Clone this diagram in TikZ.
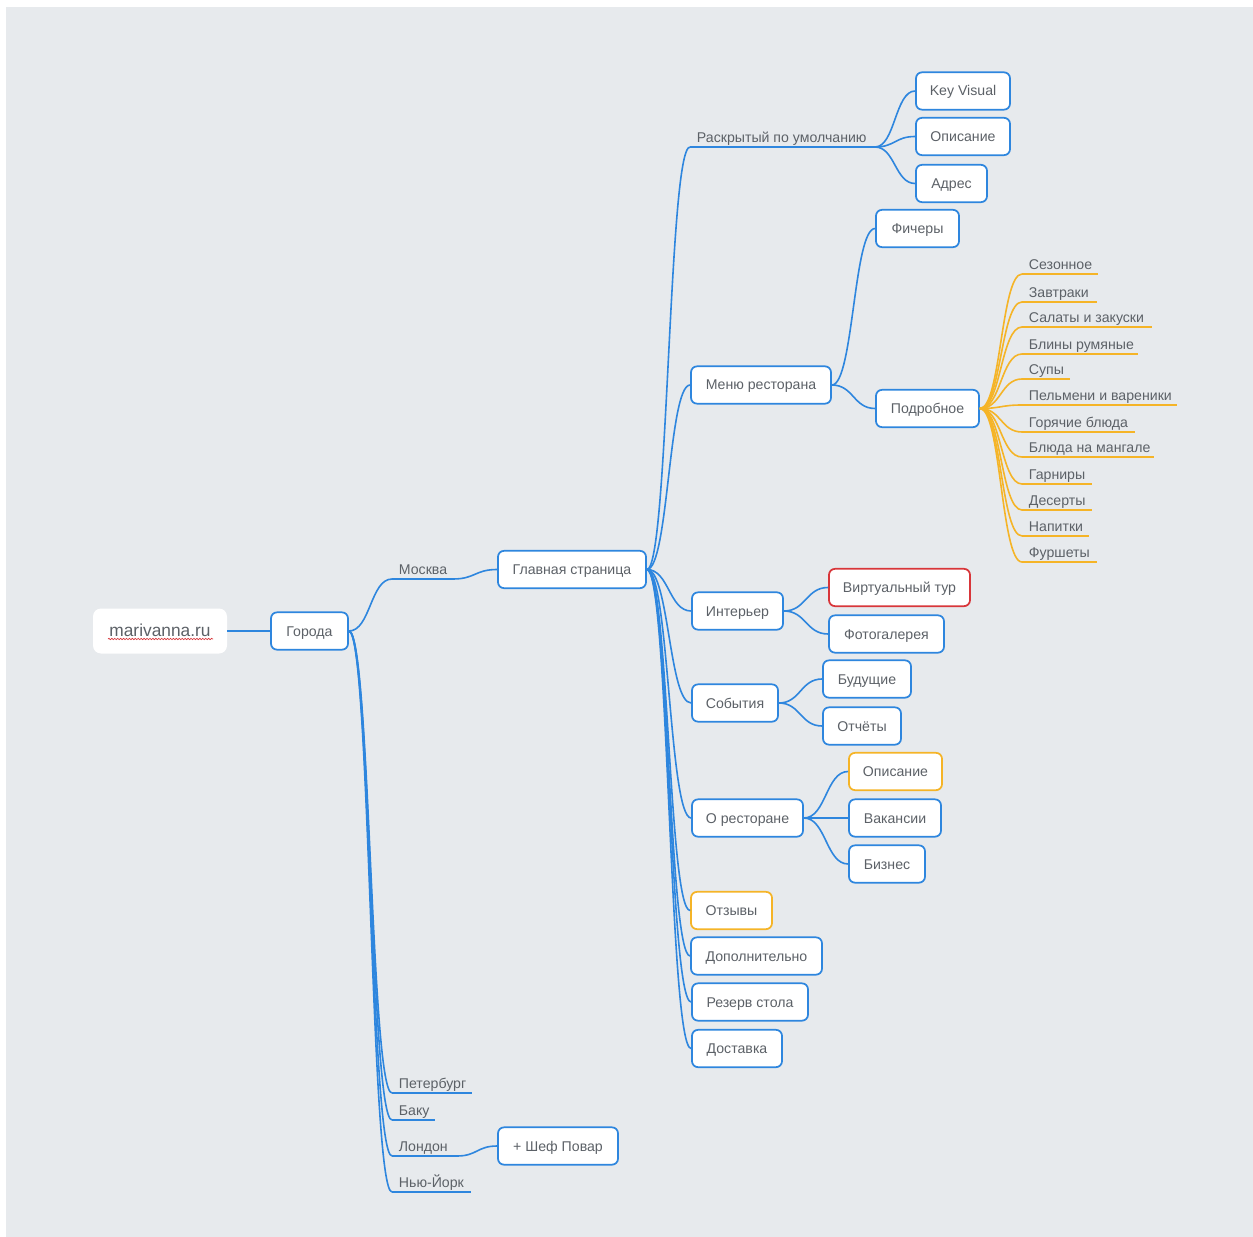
\documentclass[tikz,border=0pt]{standalone}
\usepackage{fontspec}
\setmainfont{Liberation Sans}
\usetikzlibrary{calc,decorations.pathmorphing}
\definecolor{bg}{HTML}{E7EAED}
\definecolor{lb}{HTML}{2E86DE}
\definecolor{txt}{HTML}{5C6167}
\definecolor{org}{HTML}{F5B427}
\definecolor{rd}{HTML}{D8363A}
\begin{document}
\begin{tikzpicture}[x=0.75pt,y=-0.75pt, font=\fontsize{10.6pt}{12pt}\selectfont, text=txt,
 box/.style={draw=lb, line width=1.3pt, fill=white, rounded corners=4.5pt, minimum height=28pt, inner sep=0pt, text height=8pt, text depth=0.5pt},
 w/.style={minimum width=#1*0.75pt},
 lbl/.style={anchor=south west, inner xsep=5pt, inner ysep=1.2pt, text height=7.5pt, text depth=2.2pt},
 conn/.style={lb, line width=1.2pt, to path={.. controls ($(\tikztostart)!0.5!(\tikztotarget|-\tikztostart)$) and ($(\tikztotarget)!0.5!(\tikztostart|-\tikztotarget)$) .. (\tikztotarget)}},
 oconn/.style={conn, org},
 uline/.style={lb, line width=1.2pt},
 ouline/.style={org, line width=1.2pt}]
\fill[white] (0,0) rectangle (1253,1237);
\fill[bg] (6,7) rectangle (1253,1237);
\useasboundingbox (0,0) rectangle (1253,1237);

% root
\node[fill=white, rounded corners=6pt, minimum width=134*0.75pt, minimum height=45*0.75pt, inner sep=0pt, text height=9.5pt, text depth=1pt, font=\fontsize{13pt}{15pt}\selectfont] (root) at (160,631) {marivanna.ru};
\draw[rd, line width=0.5pt, decorate, decoration={snake, amplitude=0.5pt, segment length=2.2pt}] ($(root.center)+(-52,8)$) -- ($(root.center)+(53,8)$);

\node[box, w=77] (gor) at (309.5,631) {Города};
\node[box, w=148] (glav) at (572,569.5) {Главная страница};

% cities
\coordinate (msk-l) at (392,579); \coordinate (msk-r) at (453,579);
\coordinate (spb-l) at (392,1093); \coordinate (spb-r) at (472,1093);
\coordinate (baku-l) at (392,1120); \coordinate (baku-r) at (435,1120);
\coordinate (lon-l) at (392,1156); \coordinate (lon-r) at (457,1156);
\coordinate (ny-l) at (392,1192); \coordinate (ny-r) at (471,1192);
\node[lbl] (msk) at (msk-l) {Москва};
\node[lbl] (spb) at (spb-l) {Петербург};
\node[lbl] (baku) at (baku-l) {Баку};
\node[lbl] (lon) at (lon-l) {Лондон};
\node[lbl] (ny) at (ny-l) {Нью-Йорк};
\foreach \c in {msk,spb,baku,lon,ny} {\draw[uline] (\c-l) -- (\c-r);}
\node[box, w=120] (chef) at (558,1146) {+ Шеф Повар};

\draw[uline] (root.east) -- (gor.west);
\foreach \c in {msk,spb,baku,lon,ny} {\draw[conn] (gor.east) to (\c-l);}
\draw[conn] (msk-r) to (glav.west);
\draw[conn] (lon-r) to (chef.west);

% top branch
\coordinate (rask-l) at (690,147); \coordinate (rask-r) at (875,147);
\node[lbl] (rask) at (rask-l) {Раскрытый по умолчанию};
\draw[uline] (rask-l) -- (rask-r);
\node[box, w=94] (kv) at (963,91) {Key Visual};
\node[box, w=94] (op1) at (963,136.5) {Описание};
\node[box, w=71] (adr) at (951.5,183.5) {Адрес};

% menu
\node[box, w=140] (menu) at (761,385) {Меню ресторана};
\node[box, w=83] (fich) at (917.5,228.5) {Фичеры};
\node[box, w=103] (pod) at (927.5,408.5) {Подробное};

% interior etc
\node[box, w=91] (int) at (737.5,611) {Интерьер};
\node[box, w=141, draw=rd] (virt) at (899.5,587.5) {Виртуальный тур};
\node[box, w=115] (foto) at (886.5,634) {Фотогалерея};
\node[box, w=86] (sob) at (735,703) {События};
\node[box, w=88] (bud) at (867,679) {Будущие};
\node[box, w=78] (otch) at (862,726) {Отчёты};
\node[box, w=111] (ores) at (747.5,818) {О ресторане};
\node[box, w=93, draw=org] (op2) at (895.5,771.5) {Описание};
\node[box, w=92] (vak) at (895,818) {Вакансии};
\node[box, w=76] (biz) at (887,864) {Бизнес};
\node[box, w=81, draw=org] (otz) at (731.5,910.5) {Отзывы};
\node[box, w=131] (dop) at (756.5,956) {Дополнительно};
\node[box, w=116] (rez) at (750,1002) {Резерв стола};
\node[box, w=90] (dost) at (737,1048.5) {Доставка};

\foreach \c in {menu,int,sob,ores,otz,dop,rez,dost} {\draw[conn] (glav.east) to (\c.west);}
\draw[conn] (glav.east) to (rask-l);
\foreach \c in {kv,op1,adr} {\draw[conn] (rask-r) to (\c.west);}
\foreach \c in {fich,pod} {\draw[conn] (menu.east) to (\c.west);}
\foreach \c in {virt,foto} {\draw[conn] (int.east) to (\c.west);}
\foreach \c in {bud,otch} {\draw[conn] (sob.east) to (\c.west);}
\foreach \c in {op2,vak,biz} {\draw[conn] (ores.east) to (\c.west);}

% orange menu items
\foreach \n/\y/\e/\t in {1/274/1098/Сезонное, 2/302/1097/Завтраки, 3/327/1152/Салаты и закуски, 4/354/1138/Блины румяные, 5/379/1070/Супы, 6/405/1177/Пельмени и вареники, 7/432/1135/Горячие блюда, 8/457/1154/Блюда на мангале, 9/484/1092/Гарниры, 10/510/1092/Десерты, 11/536/1089/Напитки, 12/562/1097/Фуршеты} {
 \coordinate (o\n-l) at (1022,\y);
 \coordinate (o\n-r) at (\e,\y);
 \node[lbl] (o\n) at (o\n-l) {\t};
 \draw[ouline] (o\n-l) -- (o\n-r);
 \draw[oconn] (pod.east) to (o\n-l);
}
\end{tikzpicture}
\end{document}
